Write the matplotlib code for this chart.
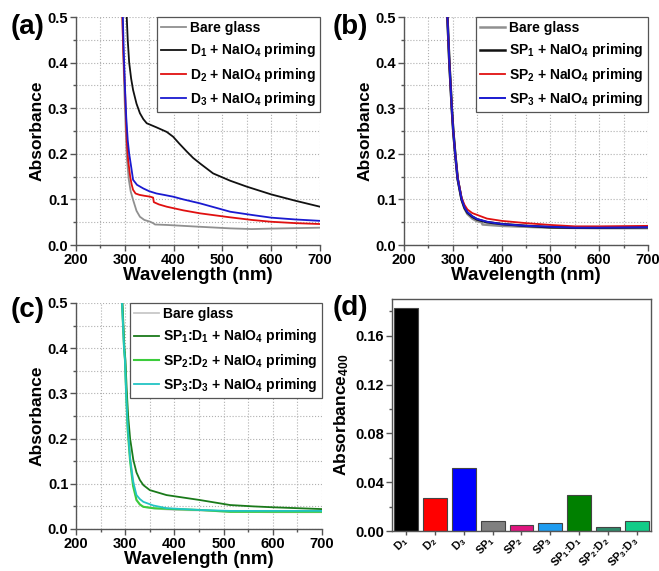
import matplotlib
matplotlib.use("Agg")
import matplotlib.pyplot as plt
from matplotlib.ticker import MultipleLocator, FormatStrFormatter

plt.rcParams['font.family'] = ['Liberation Sans', 'DejaVu Sans']
plt.rcParams['font.weight'] = 'bold'
plt.rcParams['mathtext.fontset'] = 'custom'
plt.rcParams['mathtext.rm'] = 'Liberation Sans:bold'
plt.rcParams['mathtext.it'] = 'Liberation Sans:bold'
plt.rcParams['mathtext.bf'] = 'Liberation Sans:bold'

# ---------------- Panel (a) ----------------
a_bare_wl = [292, 295, 297, 299, 301, 304, 308, 312, 317, 324, 331, 340, 352, 358, 362, 386, 420, 454, 516, 560, 600, 650, 700]
a_bare_ab = [0.62, 0.50, 0.42, 0.34, 0.28, 0.194, 0.145, 0.118, 0.099, 0.075, 0.062, 0.055, 0.051, 0.048, 0.045, 0.044, 0.042, 0.040, 0.0365, 0.035, 0.036, 0.037, 0.038]

a_d1_wl = [302, 304, 306, 309, 313, 317, 324, 331, 338, 345, 365, 386, 399, 412, 427, 440, 454, 481, 516, 550, 600, 650, 700]
a_d1_ab = [0.58, 0.50, 0.45, 0.40, 0.365, 0.34, 0.31, 0.289, 0.276, 0.267, 0.258, 0.248, 0.2375, 0.222, 0.205, 0.191, 0.179, 0.157, 0.141, 0.128, 0.111, 0.097, 0.084]

a_d2_wl = [293, 295, 297, 300.4, 302, 304, 307, 311, 314, 317, 322, 330, 340, 352, 358, 359.5, 370, 386, 420, 454, 516, 560, 600, 650, 700]
a_d2_ab = [0.60, 0.50, 0.42, 0.34, 0.29, 0.23, 0.185, 0.150, 0.133, 0.121, 0.113, 0.110, 0.108, 0.106, 0.104, 0.094, 0.089, 0.084, 0.076, 0.0695, 0.0607, 0.055, 0.051, 0.048, 0.046]

a_d3_wl = [294, 296, 298, 300.6, 303, 306, 309, 313, 317, 325, 338, 350, 365, 380, 399, 420, 454, 516, 560, 600, 650, 700]
a_d3_ab = [0.60, 0.50, 0.42, 0.34, 0.28, 0.23, 0.20, 0.172, 0.143, 0.132, 0.124, 0.118, 0.113, 0.110, 0.106, 0.100, 0.0914, 0.073, 0.066, 0.060, 0.056, 0.053]

# ---------------- Panel (b) ----------------
b_bare_wl = [286, 289, 293, 298, 301, 305, 310, 318, 324, 330, 340, 350, 359, 361, 400, 500, 600, 700]
b_bare_ab = [0.60, 0.50, 0.40, 0.30, 0.25, 0.20, 0.145, 0.10, 0.080, 0.068, 0.058, 0.052, 0.050, 0.045, 0.042, 0.038, 0.037, 0.037]

b_sp1_wl = [286, 289, 293, 298, 301, 305, 310, 318, 324, 330, 340, 350, 370, 400, 450, 500, 550, 600, 700]
b_sp1_ab = [0.60, 0.50, 0.40, 0.30, 0.25, 0.20, 0.145, 0.10, 0.082, 0.071, 0.062, 0.056, 0.050, 0.046, 0.042, 0.039, 0.038, 0.038, 0.039]

b_sp2_wl = [286, 289, 293, 298, 301, 305, 310, 318, 324, 330, 340, 350, 370, 400, 450, 500, 550, 600, 700]
b_sp2_ab = [0.60, 0.50, 0.40, 0.30, 0.25, 0.20, 0.148, 0.104, 0.088, 0.078, 0.070, 0.066, 0.058, 0.053, 0.048, 0.044, 0.041, 0.041, 0.042]

b_sp3_wl = [286, 289, 293, 298, 301, 305, 310, 318, 324, 330, 340, 350, 370, 400, 450, 500, 550, 600, 700]
b_sp3_ab = [0.60, 0.50, 0.40, 0.30, 0.25, 0.20, 0.146, 0.101, 0.083, 0.072, 0.063, 0.057, 0.051, 0.046, 0.042, 0.040, 0.038, 0.038, 0.039]

# ---------------- Panel (c) ----------------
c_bare_wl = [290, 293.6, 297.7, 299.6, 302, 305, 310, 316, 323, 330, 337, 357, 360, 400, 452, 513, 600, 700]
c_bare_ab = [0.60, 0.50, 0.40, 0.374, 0.30, 0.24, 0.16, 0.110, 0.064, 0.054, 0.049, 0.046, 0.045, 0.042, 0.041, 0.038, 0.037, 0.037]

c_sp1d1_wl = [291, 294.5, 298.5, 300.5, 303, 306, 310, 316.5, 323, 330, 337, 350, 384, 452, 513, 560, 600, 650, 700]
c_sp1d1_ab = [0.60, 0.50, 0.40, 0.374, 0.31, 0.25, 0.20, 0.153, 0.125, 0.108, 0.097, 0.086, 0.075, 0.064, 0.053, 0.050, 0.048, 0.046, 0.044]

c_sp2d2_wl = [290, 293.6, 297.7, 299.6, 302, 305, 310, 316, 323, 330, 337, 357, 400, 452, 513, 600, 700]
c_sp2d2_ab = [0.60, 0.50, 0.40, 0.374, 0.30, 0.22, 0.150, 0.095, 0.064, 0.054, 0.049, 0.046, 0.044, 0.042, 0.038, 0.038, 0.038]

c_sp3d3_wl = [290, 293.6, 297.7, 299.6, 302, 305, 310, 316, 323, 330, 337, 357, 384, 452, 513, 600, 700]
c_sp3d3_ab = [0.60, 0.50, 0.40, 0.374, 0.30, 0.23, 0.155, 0.105, 0.075, 0.066, 0.060, 0.052, 0.046, 0.042, 0.040, 0.040, 0.040]

# ---------------- Panel (d) ----------------
d_labels = ['D$_1$', 'D$_2$', 'D$_3$', 'SP$_1$', 'SP$_2$', 'SP$_3$',
            'SP$_1$:D$_1$', 'SP$_2$:D$_2$', 'SP$_3$:D$_3$']
d_values = [0.1824, 0.0271, 0.0513, 0.0084, 0.0053, 0.0063, 0.0297, 0.0032, 0.0084]
d_colors = ['#000000', '#ff0000', '#0000ff', '#808080', '#e0157f', '#1e9cf0',
            '#008000', '#2e8b6b', '#12cc88']

fig = plt.figure(figsize=(6.59, 5.71), dpi=100)

tick_fs = 10.5
xlab_fs = 13.5
ylab_fs = 12.5
leg_fs = 10
panel_fs = 20


def style_spectrum(ax):
    ax.set_xlim(200, 700)
    ax.set_ylim(0, 0.5)
    ax.xaxis.set_major_locator(MultipleLocator(100))
    ax.xaxis.set_minor_locator(MultipleLocator(50))
    ax.yaxis.set_major_locator(MultipleLocator(0.1))
    ax.yaxis.set_minor_locator(MultipleLocator(0.05))
    ax.yaxis.set_major_formatter(FormatStrFormatter('%.1f'))
    ax.grid(True, which='both', linestyle=':', color='#b0b0b0', linewidth=0.8)
    ax.set_axisbelow(True)
    for s in ['top', 'right']:
        ax.spines[s].set_visible(False)
    for s in ['left', 'bottom']:
        ax.spines[s].set_color('#555555')
        ax.spines[s].set_linewidth(1.0)
    ax.tick_params(which='major', direction='out', length=4, width=1, color='#555555',
                   labelsize=tick_fs, pad=1.5)
    ax.tick_params(which='minor', direction='out', length=2.5, width=1, color='#555555')
    ax.set_xlabel('Wavelength (nm)', fontsize=xlab_fs, fontweight='bold', labelpad=0)
    ax.set_ylabel('Absorbance', fontsize=ylab_fs, fontweight='bold', labelpad=2)


def legend(ax):
    lg = ax.legend(loc='upper right', fontsize=leg_fs, frameon=True, fancybox=False,
                   edgecolor='#555555', borderaxespad=0.0, handlelength=1.8,
                   handletextpad=0.3, labelspacing=0.45, borderpad=0.3)
    lg.get_frame().set_linewidth(0.9)
    lg.get_frame().set_alpha(1.0)


# (a)
axa = fig.add_axes([0.1153, 0.5709, 0.3703, 0.3993])
axa.plot(a_bare_wl, a_bare_ab, color='#909090', lw=1.3, label='Bare glass')
axa.plot(a_d1_wl, a_d1_ab, color='#111111', lw=1.3, label='D$_1$ + NaIO$_4$ priming')
axa.plot(a_d2_wl, a_d2_ab, color='#e01010', lw=1.3, label='D$_2$ + NaIO$_4$ priming')
axa.plot(a_d3_wl, a_d3_ab, color='#1a1ad0', lw=1.3, label='D$_3$ + NaIO$_4$ priming')
style_spectrum(axa)
legend(axa)

# (b)
axb = fig.add_axes([0.6130, 0.5709, 0.3703, 0.3993])
axb.plot(b_bare_wl, b_bare_ab, color='#909090', lw=1.8, label='Bare glass')
axb.plot(b_sp1_wl, b_sp1_ab, color='#111111', lw=1.8, label='SP$_1$ + NaIO$_4$ priming')
axb.plot(b_sp2_wl, b_sp2_ab, color='#e01010', lw=1.3, label='SP$_2$ + NaIO$_4$ priming')
axb.plot(b_sp3_wl, b_sp3_ab, color='#1a1ad0', lw=1.4, label='SP$_3$ + NaIO$_4$ priming')
style_spectrum(axb)
legend(axb)

# (c)
axc = fig.add_axes([0.1153, 0.0736, 0.3733, 0.3958])
axc.plot(c_bare_wl, c_bare_ab, color='#c8c8c8', lw=1.3, label='Bare glass')
axc.plot(c_sp1d1_wl, c_sp1d1_ab, color='#1a7a1a', lw=1.3, label='SP$_1$:D$_1$ + NaIO$_4$ priming')
axc.plot(c_sp2d2_wl, c_sp2d2_ab, color='#3ccc3c', lw=1.5, label='SP$_2$:D$_2$ + NaIO$_4$ priming')
axc.plot(c_sp3d3_wl, c_sp3d3_ab, color='#22c4c4', lw=1.3, label='SP$_3$:D$_3$ + NaIO$_4$ priming')
style_spectrum(axc)
legend(axc)

# (d)
axd = fig.add_axes([0.5948, 0.0700, 0.3930, 0.4063])
xpos = list(range(len(d_values)))
axd.bar(xpos, d_values, width=0.83, color=d_colors, edgecolor='#444444', linewidth=0.8)
axd.set_xlim(-0.5, len(d_values) - 0.5)
axd.set_ylim(0, 0.19)
axd.yaxis.set_major_locator(MultipleLocator(0.04))
axd.yaxis.set_minor_locator(MultipleLocator(0.02))
axd.yaxis.set_major_formatter(FormatStrFormatter('%.2f'))
axd.set_xticks(xpos)
axd.set_xticklabels(d_labels, rotation=45, ha='right', va='center',
                    rotation_mode='anchor', fontsize=8)
for s in axd.spines.values():
    s.set_color('#555555')
    s.set_linewidth(1.0)
axd.tick_params(which='major', direction='out', length=4, width=1, color='#555555',
                labelsize=tick_fs, pad=1.5)
axd.tick_params(which='minor', direction='out', length=2.5, width=1, color='#555555')
axd.tick_params(axis='x', length=3, pad=2.5, labelsize=8)
axd.set_ylabel('Absorbance$_{400}$', fontsize=ylab_fs, fontweight='bold', labelpad=3)

# panel labels
fig.text(0.016, 0.952, '(a)', fontsize=panel_fs, fontweight='bold', va='center')
fig.text(0.504, 0.952, '(b)', fontsize=panel_fs, fontweight='bold', va='center')
fig.text(0.016, 0.457, '(c)', fontsize=panel_fs, fontweight='bold', va='center')
fig.text(0.504, 0.461, '(d)', fontsize=panel_fs, fontweight='bold', va='center')

fig.savefig('out.png', dpi=100)
